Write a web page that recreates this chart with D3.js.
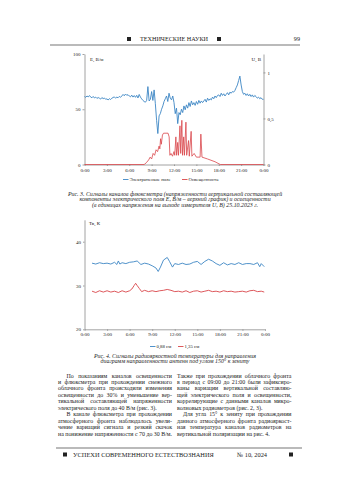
<!DOCTYPE html>
<html>
<head>
<meta charset="utf-8">
<script src="https://cdn.jsdelivr.net/npm/d3@7"></script>
<style>
  html, body { margin: 0; padding: 0; background: #fff; }
  text { font-family: 'Liberation Serif', 'Times New Roman', serif; fill: #222; }
</style>
</head>
<body>
<div id="container"></div>
<script>
const WIDTH = 350;
const HEIGHT = 495;

const BLUE = '#3c86c4';
const RED = '#d9454a';
const AXIS = '#8c8c8c';

// ---- данные: рис. 3 ----
const HOUR_TICKS = [0, 3, 6, 9, 12, 15, 18, 21, 24];
const E_STEP_H = 1 / 6;
// E, В/м, шаг 10 минут, с 0:00 до 24:00
const fieldE = [
  61.5, 60.8, 62.0, 61.2, 62.4, 61.0,
  60.4, 61.6, 60.2, 61.0, 59.8, 60.6,
  60.0, 59.2, 60.6, 59.6, 60.2, 59.0,
  59.4, 58.4, 59.6, 58.8, 60.0, 60.6,
  61.2, 60.0, 61.0, 60.4, 61.6, 60.8,
  62.0, 63.4, 62.2, 63.8, 62.6, 63.2,
  62.0, 61.2, 62.8, 61.0, 62.4, 60.8,
  62.6, 60.2, 63.4, 61.0, 59.4, 58.0,
  57.0, 56.4, 58.0, 70.5, 57.5, 59.0,
  66.0, 58.0, 67.5, 55.0, 40.0, 28.0,
  44.0, 46.0, 50.0, 53.0, 57.0, 59.5,
  62.0, 57.0, 64.5, 60.0, 58.5, 62.0,
  56.0, 46.0, 51.0, 37.0, 47.0, 45.0,
  50.0, 47.0, 53.0, 49.5, 54.0, 51.0,
  56.0, 52.5, 57.5, 54.0, 56.0, 53.5,
  57.0, 54.5, 58.0, 55.5, 57.5, 56.0,
  57.5, 59.0, 56.5, 60.0, 58.0, 59.5,
  58.5, 61.0, 59.5, 62.0, 60.5, 62.5,
  63.0, 61.5, 64.5, 62.5, 64.0, 62.0,
  63.5, 65.0, 63.0, 65.5, 64.5, 66.0,
  65.5, 67.0, 69.5, 72.0, 76.0, 80.0,
  72.0, 66.0, 63.5, 64.5, 62.5, 64.0,
  62.0, 63.5, 61.5, 63.0, 61.0, 62.5,
  61.5, 60.0, 61.0, 59.5, 60.5, 59.0,
  59.0
];
// освещенность U, В: [час, значение]
const illumination = [
  [0, 0], [8.0, 0], [8.3, 0.02], [8.6, 0.05], [8.8, 0.08], [9.0, 0.06],
  [9.2, 0.12], [9.4, 0.10], [9.6, 0.16], [9.8, 0.14], [10.0, 0.20],
  [10.1, 0.17], [10.2, 0.28], [10.3, 0.22], [10.45, 0.32], [10.6, 0.34],
  [11.2, 0.34], [11.35, 0.30], [11.45, 0.10], [11.6, 0.12], [11.8, 0.09],
  [12.0, 0.14], [12.1, 0.10], [12.25, 0.30], [12.35, 0.10], [12.5, 0.24],
  [12.6, 0.10], [12.8, 0.42], [12.9, 0.12], [13.05, 0.48], [13.15, 0.10],
  [13.3, 0.30], [13.4, 0.10], [13.6, 0.46], [13.7, 0.10], [13.95, 0.26],
  [14.05, 0.09], [14.3, 0.36], [14.4, 0.09], [14.7, 0.12], [15.0, 0.08],
  [15.5, 0.08], [15.6, 0.33], [15.75, 0.08], [16.5, 0.06], [17.5, 0.03],
  [18.2, 0], [24, 0]
];

// ---- данные: рис. 4 ----
// Тв, К: [час, значение]
const tb088 = [
  [1.0, 35.1], [1.5, 34.9], [2.0, 35.2], [2.5, 35.0], [3.0, 35.1], [3.5, 34.9],
  [4.0, 35.3], [4.3, 34.8], [4.5, 35.6], [4.7, 34.9], [5.0, 35.2], [5.5, 35.0],
  [6.0, 35.3], [6.5, 35.4], [7.0, 35.6], [7.5, 34.8], [8.0, 35.1], [8.5, 34.9],
  [9.0, 34.5], [9.5, 34.0], [9.8, 33.2], [10.1, 34.2], [10.5, 35.8], [11.0, 36.4],
  [11.3, 35.5], [11.7, 34.2], [12.0, 35.0], [12.5, 34.8], [13.0, 35.1], [13.5, 34.8],
  [14.0, 34.9], [14.5, 35.3], [15.0, 35.5], [15.5, 34.8], [16.0, 35.5], [16.5, 36.0],
  [17.0, 35.6], [17.5, 35.0], [18.0, 34.6], [18.5, 35.2], [19.0, 34.7], [19.5, 35.0],
  [20.0, 34.8], [20.5, 35.2], [21.0, 34.8], [21.5, 35.0], [22.0, 35.0], [22.5, 34.8],
  [23.0, 35.2], [23.3, 34.3], [23.5, 35.0], [23.9, 34.3]
];
const tb135 = [
  [1.0, 28.7], [1.5, 28.4], [2.0, 28.8], [2.5, 28.5], [3.0, 28.8], [3.5, 28.5],
  [4.0, 28.7], [4.5, 28.4], [5.0, 28.8], [5.5, 28.5], [6.0, 28.8], [6.3, 29.2],
  [6.6, 30.0], [6.8, 30.5], [7.0, 30.0], [7.3, 29.3], [7.6, 28.6], [8.0, 28.9],
  [8.5, 28.6], [9.0, 28.8], [9.5, 28.6], [10.0, 28.8], [10.5, 28.9], [11.0, 29.1],
  [11.5, 28.9], [12.0, 28.6], [12.5, 28.7], [13.0, 28.5], [13.5, 28.8], [14.0, 28.4],
  [14.5, 28.7], [15.0, 28.8], [15.5, 28.5], [16.0, 28.7], [16.5, 28.9], [17.0, 28.6],
  [17.5, 28.7], [18.0, 28.5], [18.5, 28.8], [19.0, 28.6], [19.5, 28.7], [20.0, 28.5],
  [20.5, 28.6], [21.0, 28.7], [21.5, 28.5], [22.0, 28.8], [22.5, 28.9], [23.0, 28.6],
  [23.5, 28.7], [23.9, 28.5]
];

// ---- тексты ----
const CAPTION3 = [
  'Рис. 3. Сигналы каналов флюксметра (напряженности вертикальной составляющей',
  'компоненты электрического поля E, В/м – верхний график) и освещенности',
  '(в единицах напряжения на выходе измерителя U, В) 25.10.2023 г.'
];
const CAPTION4 = [
  'Рис. 4. Сигналы радиояркостной температуры для направления',
  'диаграмм направленности антенн под углом 150° к зениту'
];
// [текст, отступ, выключка]
const COLUMN_LEFT = [
  ['По показаниям каналов освещенности', true, true],
  ['и флюксметра при прохождении снежного', false, true],
  ['облачного фронта происходили изменения', false, true],
  ['освещенности до 30% и уменьшение вер-', false, true],
  ['тикальной составляющей напряженности', false, true],
  ['электрического поля до 40 В/м (рис. 3).', false, false],
  ['В канале флюксметра при прохождении', true, true],
  ['атмосферного фронта наблюдалось увели-', false, true],
  ['чение вариаций сигнала и резкий скачок', false, true],
  ['на понижение напряженности с 70 до 30 В/м.', false, true]
];
const COLUMN_RIGHT = [
  ['Также при прохождении облачного фронта', false, true],
  ['в период с 09:00 до 21:00 были зафиксиро-', false, true],
  ['ваны вариации вертикальной составляю-', false, true],
  ['щей электрического поля и освещенности,', false, true],
  ['коррелирующие с данными каналов микро-', false, true],
  ['волновых радиометров (рис. 2, 3).', false, false],
  ['Для угла 15° к зениту при прохождении', true, true],
  ['данного атмосферного фронта радиояркост-', false, true],
  ['ная температура каналов радиометров на', false, true],
  ['вертикальной поляризации на рис. 4.', false, false]
];

const svg = d3.select('#container')
              .append('svg')
                .attr('width', WIDTH)
                .attr('height', HEIGHT);

svg.append('rect')
     .attr('width', WIDTH)
     .attr('height', HEIGHT)
     .attr('fill', '#fff');

// ---- колонтитулы ----
const square = (x, y) => svg.append('rect')
                              .attr('x', x).attr('y', y)
                              .attr('width', 4).attr('height', 4)
                              .attr('fill', '#222');

square(127, 37);
square(217, 37);
svg.append('text')
     .attr('x', 174).attr('y', 41.3)
     .attr('text-anchor', 'middle')
     .style('font-size', '6.2px')
     .text('ТЕХНИЧЕСКИЕ НАУКИ');
svg.append('text')
     .attr('x', 300).attr('y', 41.3)
     .attr('text-anchor', 'end')
     .style('font-size', '6.2px')
     .text('99');
svg.append('line')
     .attr('x1', 50).attr('x2', 300)
     .attr('y1', 45).attr('y2', 45)
     .attr('stroke', '#777').attr('stroke-width', 1.2);

svg.append('line')
     .attr('x1', 56).attr('x2', 302)
     .attr('y1', 448).attr('y2', 448)
     .attr('stroke', '#777').attr('stroke-width', 1.2);
square(63, 452.5);
square(289, 452.5);
svg.append('text')
     .attr('x', 73).attr('y', 457)
     .style('font-size', '6.4px')
     .text('УСПЕХИ СОВРЕМЕННОГО ЕСТЕСТВОЗНАНИЯ');
svg.append('text')
     .attr('x', 237).attr('y', 457)
     .style('font-size', '6.4px')
     .text('№ 10, 2024');

// ---- оси ----
const hourFormat = h => `${h % 24}:00`;
const commaFormat = d => String(d).replace('.', ',');

const styleAxis = g => {
    g.selectAll('path, line').attr('stroke', AXIS).attr('stroke-width', 0.8);
    g.selectAll('text')
       .style('font-family', "'Liberation Serif', serif")
       .style('font-size', '5px')
       .attr('fill', '#222');
};

// ---- рис. 3 ----
const x1 = d3.scaleLinear().domain([0, 24]).range([84.5, 263.5]);
const yE = d3.scaleLinear().domain([0, 100]).range([164.5, 54]);
const yU = d3.scaleLinear().domain([0, 1.2]).range([164.5, 54]);

const chart1 = svg.append('g');

chart1.append('g')
        .attr('transform', `translate(${x1.range()[0]},0)`)
        .call(d3.axisLeft(yE).tickValues([0, 50, 100]).tickSize(2)
                .tickSizeOuter(0).tickPadding(2))
        .call(styleAxis);

chart1.append('g')
        .attr('transform', `translate(${x1.range()[1]},0)`)
        .call(d3.axisRight(yU).tickValues([0, 0.5, 1]).tickSize(2)
                .tickSizeOuter(0).tickPadding(2).tickFormat(commaFormat))
        .call(styleAxis);

chart1.append('g')
        .attr('transform', `translate(0,${yE(0)})`)
        .call(d3.axisBottom(x1).tickValues(HOUR_TICKS).tickSize(1.5)
                .tickSizeOuter(0).tickPadding(2).tickFormat(hourFormat))
        .call(styleAxis);

const lineE = d3.line()
                .x((d, i) => x1(i * E_STEP_H))
                .y(d => yE(d));

const lineU = d3.line()
                .x(d => x1(d[0]))
                .y(d => yU(d[1]));

chart1.append('path')
        .datum(fieldE)
        .attr('d', lineE)
        .attr('fill', 'none')
        .attr('stroke', BLUE)
        .attr('stroke-width', 0.9)
        .attr('stroke-linejoin', 'round');

chart1.append('path')
        .datum(illumination)
        .attr('d', lineU)
        .attr('fill', 'none')
        .attr('stroke', RED)
        .attr('stroke-width', 0.8)
        .attr('stroke-linejoin', 'round');

chart1.append('text')
        .attr('x', 90).attr('y', 60.8)
        .style('font-size', '5px')
        .text('E, В/м');
chart1.append('text')
        .attr('x', 261).attr('y', 60.8)
        .attr('text-anchor', 'end')
        .style('font-size', '5px')
        .text('U, В');

const legend = (g, items, y) => {
    items.forEach(([x, color, label]) => {
        g.append('line')
           .attr('x1', x).attr('x2', x + 5.5)
           .attr('y1', y - 1.5).attr('y2', y - 1.5)
           .attr('stroke', color).attr('stroke-width', 0.9);
        g.append('text')
           .attr('x', x + 6.5).attr('y', y)
           .style('font-size', '4.8px')
           .text(label);
    });
};

legend(chart1, [[123, BLUE, 'Электрическое поле'], [182, RED, 'Освещенность']], 181);

const caption = (lines, y0, step) => {
    svg.selectAll(null)
       .data(lines)
       .enter()
       .append('text')
         .attr('x', 175)
         .attr('y', (d, i) => y0 + i * step)
         .attr('text-anchor', 'middle')
         .style('font-size', '5.9px')
         .style('font-style', 'italic')
         .text(d => d);
};

caption(CAPTION3, 196, 5.4);

// ---- рис. 4 ----
const x2 = d3.scaleLinear().domain([0, 24]).range([84.5, 265]);
const yT = d3.scaleLinear().domain([20, 45]).range([329.3, 219.8]);

const chart2 = svg.append('g');

chart2.append('g')
        .attr('transform', `translate(${x2.range()[0]},0)`)
        .call(d3.axisLeft(yT).tickValues([20, 30, 40]).tickSize(1.5)
                .tickSizeOuter(0).tickPadding(2))
        .call(styleAxis);

chart2.append('g')
        .attr('transform', `translate(0,${yT(20)})`)
        .call(d3.axisBottom(x2).tickValues(HOUR_TICKS).tickSize(1.5)
                .tickSizeOuter(0).tickPadding(2).tickFormat(hourFormat))
        .call(styleAxis);

const lineT = d3.line()
                .x(d => x2(d[0]))
                .y(d => yT(d[1]));

chart2.append('path')
        .datum(tb088)
        .attr('d', lineT)
        .attr('fill', 'none')
        .attr('stroke', BLUE)
        .attr('stroke-width', 0.9);

chart2.append('path')
        .datum(tb135)
        .attr('d', lineT)
        .attr('fill', 'none')
        .attr('stroke', RED)
        .attr('stroke-width', 0.9);

chart2.append('text')
        .attr('x', 89).attr('y', 224.5)
        .style('font-size', '5px')
        .text('Тв, К');

legend(chart2, [[150, BLUE, '0,88 см'], [178, RED, '1,35 см']], 348);

caption(CAPTION4, 357.6, 5.4);

// ---- текст статьи ----
const column = (lines, x0, width, indent) => {
    lines.forEach(([str, ind, justify], i) => {
        const xs = x0 + (ind ? indent : 0);
        const t = svg.append('text')
                       .attr('x', xs)
                       .attr('y', 377.5 + i * 6.45)
                       .style('font-size', '5.9px')
                       .text(str);
        if (justify) {
            const spaces = (str.match(/ /g) || []).length;
            const gap = (x0 + width - xs) - t.node().getComputedTextLength();
            if (spaces > 0) t.attr('word-spacing', gap / spaces);
        }
    });
};

column(COLUMN_LEFT, 58, 114, 8.5);
column(COLUMN_RIGHT, 177, 114.5, 6);
</script>
</body>
</html>
